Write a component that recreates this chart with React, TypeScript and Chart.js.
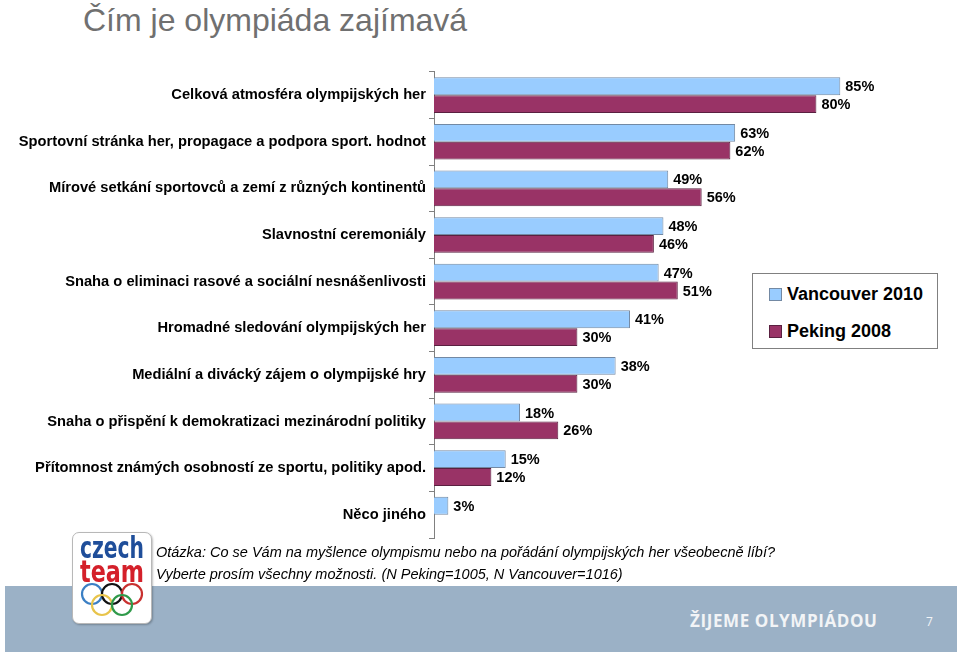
import React, { useEffect, useRef } from "react";
import { Chart, registerables } from "chart.js";

Chart.register(...registerables);

const TITLE = "Čím je olympiáda zajímavá";
const CATEGORIES = [
  "Celková atmosféra olympijských her",
  "Sportovní stránka her, propagace a podpora sport. hodnot",
  "Mírové setkání sportovců a zemí z různých kontinentů",
  "Slavnostní ceremoniály",
  "Snaha o eliminaci rasové a sociální nesnášenlivosti",
  "Hromadné sledování olympijských her",
  "Mediální a divácký zájem o olympijské hry",
  "Snaha o přispění k demokratizaci mezinárodní politiky",
  "Přítomnost známých osobností ze sportu, politiky apod.",
  "Něco jiného",
];
const SERIES_NAMES = ["Vancouver 2010", "Peking 2008"];
const VANCOUVER = [85, 63, 49, 48, 47, 41, 38, 18, 15, 3];
const PEKING: (number | null)[] = [80, 62, 56, 46, 51, 30, 30, 26, 12, null];
const NOTE_LINES = [
  "Otázka: Co se Vám na myšlence olympismu nebo na pořádání olympijských her všeobecně líbí?",
  "Vyberte prosím všechny možnosti. (N Peking=1005, N Vancouver=1016)",
];
const FOOTER_TEXT = "ŽIJEME OLYMPIÁDOU";
const PAGE_NUMBER = "7";

const FONT = '"Liberation Sans", Arial, sans-serif';
const COLORS = ["#99ccff", "#993366"];
const BORDERS = ["#7389a3", "#5a2040"];

const valueLabels = {
  id: "valueLabels",
  afterDatasetsDraw(chart: any) {
    const ctx = chart.ctx;
    ctx.save();
    ctx.font = `bold 14.5px ${FONT}`;
    ctx.fillStyle = "#000";
    ctx.textAlign = "left";
    ctx.textBaseline = "middle";
    chart.data.datasets.forEach((ds: any, di: number) => {
      const meta = chart.getDatasetMeta(di);
      meta.data.forEach((el: any, i: number) => {
        const v = ds.data[i];
        if (v === null || v === undefined) return;
        ctx.fillText(`${v}%`, el.x + 5, el.y + 1);
      });
    });
    ctx.restore();
  },
};

function Logo() {
  const f = '"DejaVu Sans Condensed", "Liberation Sans Narrow", sans-serif';
  return (
    <div
      style={{
        position: "absolute",
        left: 72,
        top: 532,
        width: 78,
        height: 90,
        background: "#fff",
        border: "1px solid #b8b8b8",
        borderRadius: 7,
        boxShadow: "1px 1px 2px rgba(0,0,0,0.25)",
        zIndex: 2,
      }}
    >
      <svg width="78" height="90" viewBox="0 0 78 90">
        <text x="39" y="25" textAnchor="middle" fontFamily={f} fontWeight="bold" fontSize="30" fill="#1f4e9a" textLength="64" lengthAdjust="spacingAndGlyphs">czech</text>
        <text x="39" y="49" textAnchor="middle" fontFamily={f} fontWeight="bold" fontSize="30" fill="#d4202a" textLength="64" lengthAdjust="spacingAndGlyphs">team</text>
        <circle cx="19" cy="61" r="10" fill="none" stroke="#3b7fc4" strokeWidth="2.2" />
        <circle cx="39" cy="61" r="10" fill="none" stroke="#111" strokeWidth="2.2" />
        <circle cx="59" cy="61" r="10" fill="none" stroke="#c8302f" strokeWidth="2.2" />
        <circle cx="29" cy="72" r="10" fill="none" stroke="#e8c44a" strokeWidth="2.2" />
        <circle cx="49" cy="72" r="10" fill="none" stroke="#2f9a4a" strokeWidth="2.2" />
      </svg>
    </div>
  );
}

export default function App() {
  const canvasRef = useRef<HTMLCanvasElement | null>(null);

  useEffect(() => {
    if (!canvasRef.current) return;
    const chart = new Chart(canvasRef.current, {
      type: "bar",
      data: {
        labels: CATEGORIES,
        datasets: [
          {
            label: SERIES_NAMES[0],
            data: VANCOUVER,
            backgroundColor: COLORS[0],
            borderColor: BORDERS[0],
            borderWidth: 1,
            categoryPercentage: 0.766,
            barPercentage: 1,
          },
          {
            label: SERIES_NAMES[1],
            data: PEKING,
            backgroundColor: COLORS[1],
            borderColor: BORDERS[1],
            borderWidth: 1,
            categoryPercentage: 0.766,
            barPercentage: 1,
          },
        ],
      },
      options: {
        indexAxis: "y",
        responsive: false,
        animation: false,
        layout: { padding: { top: 8, bottom: 12, left: 0, right: 48 } },
        plugins: {
          legend: { display: false },
          tooltip: { enabled: false },
        },
        scales: {
          x: { display: false, min: 0, max: 100 },
          y: {
            grid: {
              display: true,
              drawOnChartArea: false,
              drawTicks: true,
              tickLength: 5,
              offset: true,
              color: "#808080",
            },
            border: { display: true, color: "#808080", width: 1 },
            ticks: {
              color: "#000",
              padding: 3,
              autoSkip: false,
              font: { family: FONT, size: 14.7, weight: "bold" },
            },
            afterFit(scale: any) {
              scale.width = 434;
            },
          },
        },
      },
      plugins: [valueLabels],
    } as any);
    return () => chart.destroy();
  }, []);

  return (
    <div
      style={{
        position: "absolute",
        left: 0,
        top: 0,
        width: 960,
        height: 655,
        background: "#fff",
        overflow: "hidden",
        fontFamily: FONT,
      }}
    >
      <div
        style={{
          position: "absolute",
          left: 83,
          top: 1,
          fontSize: 32,
          lineHeight: "38px",
          color: "#707070",
          whiteSpace: "nowrap",
        }}
      >
        {TITLE}
      </div>

      <canvas
        ref={canvasRef}
        width={960}
        height={490}
        style={{ position: "absolute", left: 0, top: 60, width: 960, height: 490 }}
      />

      <div
        style={{
          position: "absolute",
          left: 752,
          top: 273,
          width: 184,
          height: 74,
          border: "1px solid #808080",
          background: "#fff",
        }}
      >
        {SERIES_NAMES.map((name, i) => (
          <div
            key={name}
            style={{
              position: "absolute",
              left: 16,
              top: i === 0 ? 9 : 46,
              height: 22,
              display: "flex",
              alignItems: "center",
              whiteSpace: "nowrap",
            }}
          >
            <span
              style={{
                display: "inline-block",
                width: 11,
                height: 11,
                background: COLORS[i],
                border: `1px solid ${BORDERS[i]}`,
                marginRight: 5,
              }}
            />
            <span style={{ fontSize: 18, fontWeight: "bold", color: "#000" }}>{name}</span>
          </div>
        ))}
      </div>

      <div
        style={{
          position: "absolute",
          left: 5,
          top: 586,
          width: 952,
          height: 66,
          background: "#9bb1c6",
        }}
      />
      <Logo />
      {NOTE_LINES.map((line, i) => (
        <div
          key={i}
          style={{
            position: "absolute",
            left: 156,
            top: 543 + i * 22,
            fontSize: 14.5,
            lineHeight: "18px",
            fontStyle: "italic",
            color: "#000",
            whiteSpace: "nowrap",
          }}
        >
          {line}
        </div>
      ))}
      <div
        style={{
          position: "absolute",
          left: 690,
          top: 610,
          fontFamily: '"Open Sans", "Lato", sans-serif',
          fontWeight: 700,
          fontSize: 17,
          lineHeight: "22px",
          color: "#f2f4f6",
          whiteSpace: "nowrap",
          letterSpacing: 0.6,
        }}
      >
        {FOOTER_TEXT}
      </div>
      <div
        style={{
          position: "absolute",
          left: 926,
          top: 614,
          fontFamily: '"Open Sans", sans-serif',
          fontSize: 12,
          lineHeight: "16px",
          color: "#f2f4f6",
        }}
      >
        {PAGE_NUMBER}
      </div>
    </div>
  );
}
